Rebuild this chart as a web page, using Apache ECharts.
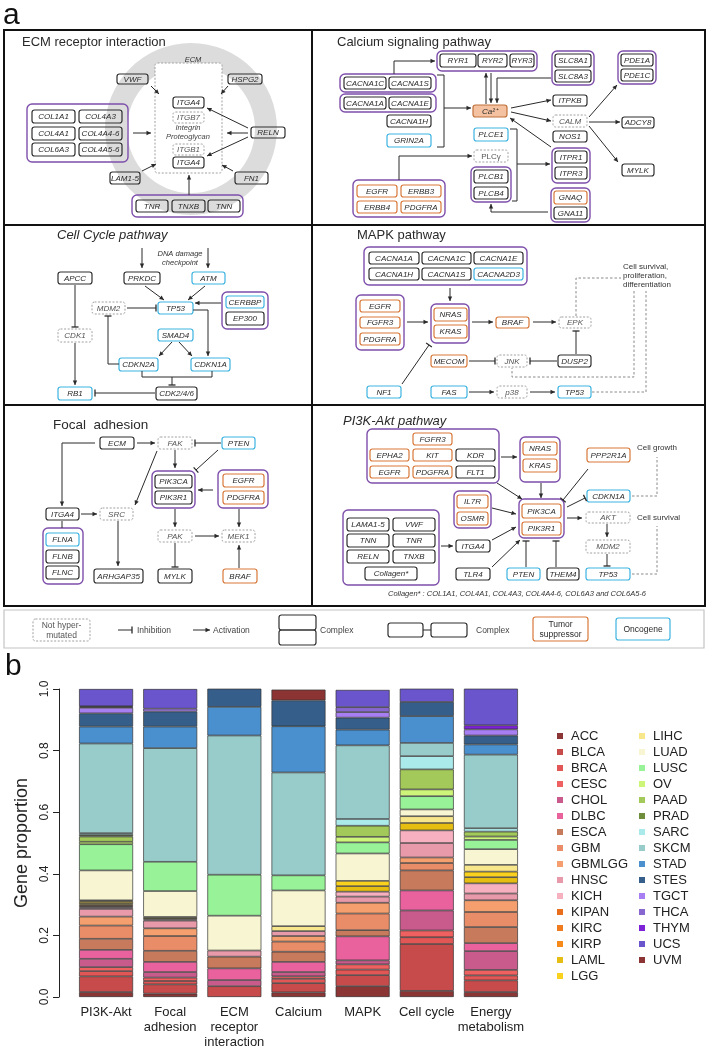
<!DOCTYPE html>
<html>
<head>
<meta charset="utf-8">
<script src="https://cdn.jsdelivr.net/npm/echarts@6/dist/echarts.min.js"></script>
<style>
html,body{margin:0;padding:0;background:#fff;}
#chart{width:709px;height:1050px;}
</style>
</head>
<body>
<div id="chart"></div>
<script>
// ---------------- DATA (panel b) ----------------
const categories = ['PI3K-Akt','Focal\nadhesion','ECM\nreceptor\ninteraction','Calcium','MAPK','Cell cycle','Energy\nmetabolism'];
const cancerTypes = ['ACC','BLCA','BRCA','CESC','CHOL','DLBC','ESCA','GBM','GBMLGG','HNSC','KICH','KIPAN','KIRC','KIRP','LAML','LGG',
  'LIHC','LUAD','LUSC','OV','PAAD','PRAD','SARC','SKCM','STAD','STES','TGCT','THCA','THYM','UCS','UVM'];
const yTicks = [0, 0.2, 0.4, 0.6, 0.8, 1.0];

// proportions per pathway: [PI3K-Akt, Focal adhesion, ECM, Calcium, MAPK, Cell cycle, Energy metabolism]
const ACC    = [0.016, 0.011, 0,     0.015, 0.035, 0.020, 0.016];
const BLCA   = [0.051, 0.030, 0.035, 0.030, 0.036, 0.152, 0.038];
const BRCA   = [0.017, 0.011, 0,     0.014, 0.018, 0.022, 0.016];
const CESC   = [0.013, 0.011, 0,     0.008, 0.017, 0.022, 0.018];
const CHOL   = [0.027, 0.018, 0.020, 0.014, 0.013, 0.065, 0.061];
const DLBC   = [0.029, 0.033, 0.038, 0.033, 0.078, 0.065, 0.026];
const ESCA   = [0.036, 0.036, 0.038, 0.033, 0.020, 0.065, 0.052];
const GBM    = [0.043, 0.048, 0,     0.033, 0.054, 0.024, 0.049];
const GBMLGG = [0.029, 0.025, 0,     0.018, 0.035, 0.018, 0.038];
const HNSC   = [0.025, 0.025, 0.020, 0.016, 0.020, 0.047, 0.022];
const KICH   = [0.005, 0.004, 0,     0,     0.016, 0.041, 0.033];
const KIPAN  = [0.003, 0,     0,     0,     0,     0,     0];
const KIRC   = [0.003, 0,     0,     0,     0,     0,     0];
const KIRP   = [0.003, 0,     0,     0,     0,     0,     0];
const LAML   = [0.005, 0,     0,     0,     0.018, 0.024, 0.020];
const LGG    = [0.006, 0.004, 0,     0,     0.017, 0,     0.018];
const LIHC   = [0.003, 0.004, 0,     0.016, 0,     0.022, 0.022];
const LUAD   = [0.097, 0.084, 0.113, 0.116, 0.089, 0.022, 0.051];
const LUSC   = [0.085, 0.095, 0.133, 0.049, 0.036, 0.043, 0.030];
const OV     = [0.008, 0,     0,     0,     0.018, 0.022, 0.011];
const PAAD   = [0.017, 0,     0,     0,     0.036, 0.065, 0.016];
const PRAD   = [0.005, 0,     0,     0,     0,     0,     0];
const SARC   = [0.006, 0,     0,     0,     0.022, 0.043, 0.011];
const SKCM   = [0.291, 0.369, 0.452, 0.334, 0.239, 0.043, 0.239];
const STAD   = [0.055, 0.070, 0.093, 0.150, 0.051, 0.087, 0.033];
const STES   = [0.043, 0.049, 0.059, 0.084, 0.039, 0.046, 0.029];
const TGCT   = [0.018, 0.009, 0,     0,     0.018, 0,     0.020];
const THCA   = [0.003, 0,     0,     0,     0.016, 0,     0];
const THYM   = [0.002, 0,     0,     0,     0,     0,     0.013];
const UCS    = [0.056, 0.064, 0,     0,     0.056, 0.043, 0.119];
const UVM    = [0,     0,     0,     0.035, 0,     0,     0];
const seriesValues = [ACC,BLCA,BRCA,CESC,CHOL,DLBC,ESCA,GBM,GBMLGG,HNSC,KICH,KIPAN,KIRC,KIRP,LAML,LGG,
  LIHC,LUAD,LUSC,OV,PAAD,PRAD,SARC,SKCM,STAD,STES,TGCT,THCA,THYM,UCS,UVM];

// ---------------- STYLE ----------------
const palette = ['#8b3535','#c84b4b','#e35656','#ef6060','#c85a8c','#e9629e','#c87a5c','#e98c68','#f59e6e','#e89aaa','#f7b0c0',
  '#e86e1c','#f07a1e','#f88a1a','#e6be12','#fad21e','#f7e68a','#f8f6d2','#98f298','#cdf57a','#a2c95a','#6e8e3c',
  '#abeaea','#98ccca','#4a90ce','#355f8a','#a87ff2','#8766d0','#7e22d8','#6a55cc','#8c3434'];
const FF = '"Liberation Sans", Arial, Helvetica, sans-serif';
const COL = {k:'#2e2e2e', o:'#d8783a', c:'#3db3e0', d:'#a0a0a0', p:'#7e4fab', f:'#c0703a'};

// ---------------- PANEL a (diagram drawn with graphic elements) ----------------
const G = [];
function T(x, y, t, fs, o) {
  o = o || {};
  G.push({type:'text', silent:true, z:10, style:{x:x, y:y, text:t, fill:o.color || '#2a2a2a',
    font:(o.italic ? 'italic ' : '') + fs + 'px ' + FF,
    textAlign:o.align || 'center', align:o.align || 'center',
    textVerticalAlign:'middle', verticalAlign:'middle', lineHeight:o.lh || fs + 2}});
}
function R(x1, y1, x2, y2, k, t, o) {
  o = o || {};
  const st = {fill:o.fill || 'none', stroke:COL[k], lineWidth:k === 'p' ? 1.4 : 1.2};
  if (k === 'd') { st.lineDash = [2, 1.6]; st.lineWidth = 1; }
  if (k === 'f') { st.fill = '#f4c2a0'; }
  G.push({type:'rect', silent:true, z:5, shape:{x:x1, y:y1, width:x2 - x1, height:y2 - y1, r:k === 'p' ? 5 : 2.5}, style:st});
  if (t) T((x1 + x2) / 2, (y1 + y2) / 2 + 0.5, t, o.fs || 8,
    {italic:o.italic !== false, color:k === 'd' ? '#555' : '#2a2a2a', lh:o.lh});
}
function L(pts, end, dash) {
  const col = dash ? '#8a8a8a' : '#2a2a2a';
  G.push({type:'polyline', silent:true, z:6, shape:{points:pts},
    style:{stroke:col, lineWidth:1, fill:null, lineDash:dash ? [2.5, 2] : null}});
  if (!end) return;
  const p = pts[pts.length - 1], q = pts[pts.length - 2];
  let dx = p[0] - q[0], dy = p[1] - q[1];
  const l = Math.hypot(dx, dy); dx /= l; dy /= l;
  if (end === 'a') {
    const a = 4.5, w = 2.2;
    G.push({type:'polygon', silent:true, z:6, shape:{points:[[p[0], p[1]],
      [p[0] - dx * a - dy * w, p[1] - dy * a + dx * w], [p[0] - dx * a + dy * w, p[1] - dy * a - dx * w]]},
      style:{fill:col}});
  } else {
    const w = 3.5;
    G.push({type:'line', silent:true, z:6, shape:{x1:p[0] - dy * w, y1:p[1] + dx * w, x2:p[0] + dy * w, y2:p[1] - dx * w},
      style:{stroke:col, lineWidth:1.3}});
  }
}

// labels a / b
T(3, 16, 'a', 30, {align:'left', color:'#111'});
T(5, 667, 'b', 30, {align:'left', color:'#111'});

// frame
G.push({type:'rect', silent:true, z:4, shape:{x:4, y:30, width:701, height:576}, style:{fill:'none', stroke:'#111', lineWidth:2}});
G.push({type:'line', silent:true, z:4, shape:{x1:312, y1:30, x2:312, y2:606}, style:{stroke:'#111', lineWidth:2}});
G.push({type:'line', silent:true, z:4, shape:{x1:4, y1:225, x2:705, y2:225}, style:{stroke:'#111', lineWidth:2}});
G.push({type:'line', silent:true, z:4, shape:{x1:4, y1:405, x2:705, y2:405}, style:{stroke:'#111', lineWidth:2}});

// ECM receptor interaction
T(22, 42, 'ECM receptor interaction', 13, {align:'left'});
G.push({type:'ring', silent:true, z:1, shape:{cx:191, cy:129, r:86, r0:64}, style:{fill:'#dcdcdc'}});
T(193, 60, 'ECM', 7.5, {italic:true, color:'#333'});
R(117, 74, 148, 84, 'k', 'VWF');
R(228, 74, 262, 84, 'k', 'HSPG2');
R(27, 104, 128, 162, 'p');
R(32, 110, 75, 123, 'k', 'COL1A1'); R(79, 110, 122, 123, 'k', 'COL4A3');
R(32, 127, 75, 140, 'k', 'COL4A1'); R(79, 127, 122, 140, 'k', 'COL4A4-6');
R(32, 143, 75, 156, 'k', 'COL6A3'); R(79, 143, 122, 156, 'k', 'COL4A5-6');
L([[133, 133], [151, 133]], 'a');
R(155, 63, 222, 173, 'd', null, {fill:'#fff'});
R(173, 97, 204, 108, 'k', 'ITGA4');
R(173, 112, 204, 123, 'd', 'ITGB7');
T(188, 128, 'Integrin', 7.5, {italic:true, color:'#444'});
T(188, 137, 'Proteoglycan', 7.5, {italic:true, color:'#444'});
R(173, 144, 204, 155, 'd', 'ITGB1');
R(173, 157, 204, 168, 'k', 'ITGA4');
R(251, 127, 285, 138, 'k', 'RELN');
L([[248, 128], [207, 108]], 'a');
L([[248, 133], [227, 133]], 'a');
L([[248, 137], [207, 156]], 'a');
L([[151, 86], [159, 94]], 'a');
L([[228, 86], [221, 94]], 'a');
R(110, 172, 140, 184, 'k', 'LAM1-5');
R(235, 172, 268, 184, 'k', 'FN1');
L([[142, 171], [156, 164]], 'a');
L([[233, 171], [222, 165]], 'a');
R(132, 195, 243, 217, 'p');
R(136, 200, 168, 212, 'k', 'TNR'); R(172, 200, 205, 212, 'k', 'TNXB'); R(208, 200, 240, 212, 'k', 'TNN');
L([[189, 195], [189, 175]], 'a');

// Calcium signaling pathway
T(337, 42, 'Calcium signaling pathway', 13, {align:'left'});
R(437, 51, 537, 71, 'p');
R(440, 54, 476, 67, 'k', 'RYR1'); R(478, 54, 507, 67, 'k', 'RYR2'); R(510, 54, 534, 67, 'k', 'RYR3');
R(552, 51, 594, 85, 'p');
R(555, 54, 591, 67, 'k', 'SLC8A1'); R(555, 70, 591, 82, 'k', 'SLC8A3');
R(618, 51, 656, 84, 'p');
R(621, 54, 653, 66, 'k', 'PDE1A'); R(621, 69, 653, 81, 'k', 'PDE1C');
R(340, 74, 436, 92, 'p');
R(344, 77, 386, 89, 'k', 'CACNA1C'); R(389, 77, 431, 89, 'k', 'CACNA1S');
R(340, 94, 436, 112, 'p');
R(344, 97, 386, 109, 'k', 'CACNA1A'); R(389, 97, 431, 109, 'k', 'CACNA1E');
R(387, 115, 431, 127, 'k', 'CACNA1H');
R(387, 134, 431, 147, 'c', 'GRIN2A');
L([[437, 75], [444, 75], [444, 147], [437, 147]]);
L([[444, 108], [471, 108]], 'a');
L([[394, 74], [394, 61], [435, 61]], 'a');
R(473, 105, 507, 117, 'f', 'Ca²⁺');
L([[486, 104], [486, 73]], 'a');
L([[491, 73], [491, 103]], 'a');
L([[551, 78], [497, 78], [497, 103]], 'a');
R(553, 95, 587, 106, 'k', 'ITPKB');
R(553, 115, 587, 127, 'd', 'CALM');
R(553, 131, 587, 142, 'k', 'NOS1');
L([[511, 108], [551, 100]], 'a');
L([[511, 112], [551, 121]], 'a');
L([[551, 147], [510, 118]], 'a');
R(552, 148, 590, 183, 'p');
R(555, 151, 587, 163, 'k', 'ITPR1'); R(555, 167, 587, 179, 'k', 'ITPR3');
R(622, 117, 654, 128, 'k', 'ADCY8');
R(622, 164, 654, 176, 'k', 'MYLK');
L([[589, 117], [617, 85]], 'a');
L([[589, 122], [620, 122]], 'a');
L([[589, 126], [618, 162]], 'a');
R(474, 128, 508, 141, 'c', 'PLCE1');
R(474, 150, 508, 162, 'd', 'PLCγ', {italic:false});
R(471, 167, 511, 202, 'p');
R(474, 170, 508, 183, 'k', 'PLCB1'); R(474, 187, 508, 199, 'k', 'PLCB4');
L([[510, 129], [517, 129], [517, 201], [512, 201]]);
L([[517, 164], [550, 164]], 'a');
L([[399, 180], [399, 156], [472, 156]], 'a');
R(353, 180, 445, 217, 'p');
R(357, 185, 397, 197, 'o', 'EGFR'); R(401, 185, 441, 197, 'o', 'ERBB3');
R(357, 201, 397, 213, 'o', 'ERBB4'); R(401, 201, 441, 213, 'o', 'PDGFRA');
R(551, 188, 590, 222, 'p');
R(554, 191, 587, 204, 'o', 'GNAQ'); R(554, 207, 587, 219, 'k', 'GNA11');
L([[548, 212], [491, 212], [491, 204]], 'a');

// Cell Cycle pathway
T(57, 235, 'Cell Cycle pathway', 13, {align:'left', italic:true});
T(180, 254, 'DNA damage', 7.5, {italic:true, color:'#333'});
T(180, 263, 'checkpoint', 7.5, {italic:true, color:'#333'});
L([[142, 248], [142, 268]], 'a');
L([[208, 248], [208, 268]], 'a');
R(58, 272, 92, 284, 'k', 'APCC');
R(124, 272, 160, 284, 'k', 'PRKDC');
R(192, 272, 225, 284, 'c', 'ATM');
R(92, 302, 125, 314, 'd', 'MDM2');
R(158, 302, 193, 314, 'c', 'TP53');
R(222, 292, 268, 329, 'p');
R(226, 296, 264, 308, 'c', 'CERBBP'); R(226, 312, 264, 325, 'k', 'EP300');
L([[221, 303], [195, 303]], 'a');
L([[127, 308], [156, 308]], 'i');
L([[145, 286], [164, 300]], 'a');
L([[205, 286], [188, 300]], 'a');
R(58, 329, 92, 342, 'd', 'CDK1');
L([[75, 285], [75, 327]], 'i');
R(158, 329, 193, 341, 'c', 'SMAD4');
L([[193, 310], [208, 310], [208, 356]], 'a');
R(119, 358, 158, 371, 'c', 'CDKN2A');
R(191, 358, 230, 371, 'c', 'CDKN1A');
L([[119, 364], [108, 364], [108, 316]], 'i');
L([[172, 342], [159, 356]], 'a');
L([[179, 342], [192, 356]], 'a');
L([[142, 371], [142, 377], [212, 377], [212, 371]]);
L([[172, 377], [172, 385]], 'i');
R(156, 387, 197, 400, 'k', 'CDK2/4/6');
R(58, 387, 92, 400, 'c', 'RB1');
L([[155, 393], [95, 393]], 'i');
L([[75, 343], [75, 385]], 'a');

// MAPK pathway
T(357, 235, 'MAPK pathway', 13, {align:'left'});
R(364, 247, 527, 285, 'p');
R(369, 252, 419, 264, 'k', 'CACNA1A'); R(422, 252, 471, 264, 'k', 'CACNA1C'); R(474, 252, 523, 264, 'k', 'CACNA1E');
R(369, 268, 419, 280, 'k', 'CACNA1H'); R(422, 268, 471, 280, 'k', 'CACNA1S'); R(474, 268, 523, 280, 'c', 'CACNA2D3');
L([[450, 288], [450, 301]], 'a');
R(356, 295, 404, 350, 'p');
R(360, 300, 400, 312, 'o', 'EGFR'); R(360, 317, 400, 328, 'o', 'FGFR3'); R(360, 333, 400, 345, 'o', 'PDGFRA');
R(431, 304, 469, 343, 'p');
R(434, 308, 467, 321, 'o', 'NRAS'); R(434, 325, 467, 338, 'o', 'KRAS');
L([[407, 322], [428, 322]], 'a');
L([[472, 322], [493, 322]], 'a');
R(496, 317, 529, 328, 'o', 'BRAF');
L([[533, 322], [556, 322]], 'a');
R(559, 317, 591, 328, 'd', 'EPK');
L([[576, 316], [576, 278], [621, 278]], null, true);
T(623, 267, 'Cell survival,', 8, {align:'left', color:'#333'});
T(623, 276, 'proliferation,', 8, {align:'left', color:'#333'});
T(623, 285, 'differentiation', 8, {align:'left', color:'#333'});
L([[634, 291], [634, 377], [512, 377], [512, 368]], null, true);
L([[592, 392], [646, 392], [646, 291]], null, true);
R(558, 355, 591, 367, 'k', 'DUSP2');
L([[576, 354], [576, 331]], 'i');
R(431, 355, 467, 367, 'o', 'MECOM');
R(497, 355, 527, 367, 'd', 'JNK');
L([[469, 361], [495, 361]], 'i');
L([[557, 361], [530, 361]], 'i');
R(367, 386, 401, 398, 'c', 'NF1');
L([[402, 384], [429, 345]], 'i');
R(431, 386, 467, 398, 'c', 'FAS');
L([[469, 392], [494, 392]], 'a');
R(497, 386, 527, 398, 'd', 'p38');
L([[530, 392], [555, 392]], 'a');
R(558, 386, 591, 398, 'c', 'TP53');

// Focal adhesion
T(53, 425, 'Focal  adhesion', 13.5, {align:'left'});
R(100, 437, 134, 449, 'k', 'ECM');
R(158, 437, 192, 449, 'd', 'FAK');
R(222, 437, 255, 449, 'c', 'PTEN');
L([[137, 443], [155, 443]], 'a');
L([[221, 443], [195, 443]], 'i');
L([[95, 443], [62, 443], [62, 506]], 'a');
R(46, 508, 79, 520, 'k', 'ITGA4');
L([[81, 514], [97, 514]], 'a');
R(100, 508, 133, 520, 'd', 'SRC');
L([[157, 451], [135, 505]], 'a');
L([[118, 521], [118, 566]], 'a');
R(94, 569, 143, 583, 'k', 'ARHGAP35');
L([[175, 450], [175, 468]], 'a');
L([[218, 450], [196, 470]], 'i');
R(152, 471, 195, 508, 'p');
R(155, 475, 192, 488, 'k', 'PIK3CA'); R(155, 491, 192, 504, 'k', 'PIK3R1');
R(218, 470, 268, 508, 'p');
R(223, 474, 264, 487, 'o', 'EGFR'); R(223, 491, 264, 504, 'o', 'PDGFRA');
L([[213, 490], [198, 490]], 'a');
L([[175, 509], [175, 527]], 'a');
R(158, 530, 192, 542, 'd', 'PAK');
L([[195, 536], [219, 536]], 'a');
R(222, 530, 255, 542, 'd', 'MEK1');
L([[239, 509], [239, 527]], 'a');
L([[175, 543], [175, 567]], 'i');
R(158, 569, 192, 583, 'k', 'MYLK');
R(223, 569, 257, 583, 'o', 'BRAF');
L([[239, 568], [239, 545]], 'a');
L([[62, 521], [62, 528]]);
R(43, 528, 83, 584, 'p');
R(46, 533, 79, 546, 'c', 'FLNA'); R(46, 550, 79, 563, 'k', 'FLNB'); R(46, 566, 79, 579, 'k', 'FLNC');

// PI3K-Akt pathway
T(343, 421, 'PI3K-Akt pathway', 13, {align:'left', italic:true});
R(367, 429, 499, 483, 'p');
R(413, 433, 452, 445, 'o', 'FGFR3');
R(370, 449, 409, 461, 'o', 'EPHA2'); R(413, 449, 452, 461, 'o', 'KIT'); R(456, 449, 495, 461, 'k', 'KDR');
R(370, 466, 409, 478, 'o', 'EGFR'); R(413, 466, 452, 478, 'o', 'PDGFRA'); R(456, 466, 495, 478, 'k', 'FLT1');
L([[501, 457], [517, 457]], 'a');
R(520, 437, 560, 482, 'p');
R(523, 442, 557, 455, 'o', 'NRAS'); R(523, 459, 557, 472, 'o', 'KRAS');
L([[497, 483], [522, 499]], 'a');
L([[541, 483], [541, 498]], 'a');
R(587, 448, 630, 462, 'o', 'PPP2R1A');
L([[588, 469], [563, 500]], 'i');
T(637, 448, 'Cell growth', 8, {align:'left', color:'#333'});
R(587, 490, 630, 502, 'c', 'CDKN1A');
L([[567, 507], [585, 498]], 'i');
L([[632, 496], [657, 496], [657, 457]], null, true);
R(454, 491, 491, 528, 'p');
R(457, 495, 488, 508, 'o', 'IL7R'); R(457, 512, 488, 525, 'o', 'OSMR');
L([[492, 508], [516, 514]], 'a');
R(519, 499, 564, 538, 'p');
R(522, 504, 561, 518, 'o', 'PIK3CA'); R(522, 522, 561, 535, 'o', 'PIK3R1');
L([[567, 518], [582, 518]], 'a');
R(586, 512, 630, 523, 'd', 'AKT');
L([[607, 524], [607, 537]], 'a');
R(586, 540, 630, 553, 'd', 'MDM2');
L([[607, 554], [607, 566]], 'i');
R(586, 568, 630, 580, 'c', 'TP53');
T(637, 518, 'Cell survival', 8, {align:'left', color:'#333'});
L([[632, 574], [657, 574], [657, 526]], null, true);
R(343, 510, 439, 585, 'p');
R(347, 518, 389, 531, 'k', 'LAMA1-5'); R(393, 518, 435, 531, 'k', 'VWF');
R(347, 534, 389, 547, 'k', 'TNN'); R(393, 534, 435, 547, 'k', 'TNR');
R(347, 550, 389, 563, 'k', 'RELN'); R(393, 550, 435, 563, 'k', 'TNXB');
R(365, 567, 417, 580, 'k', 'Collagen*');
L([[441, 546], [453, 546]], 'a');
R(456, 540, 490, 552, 'k', 'ITGA4');
L([[492, 540], [516, 527]], 'a');
R(456, 568, 490, 580, 'k', 'TLR4');
L([[492, 567], [520, 540]], 'a');
R(507, 568, 540, 580, 'c', 'PTEN');
L([[526, 567], [526, 541]], 'i');
R(547, 568, 579, 580, 'k', 'THEM4');
L([[556, 567], [556, 541]], 'i');
T(517, 594, 'Collagen* : COL1A1, COL4A1, COL4A3, COL4A4-6, COL6A3 and COL6A5-6', 7.5, {italic:true, color:'#333'});

// key (legend of panel a)
G.push({type:'rect', silent:true, z:4, shape:{x:4, y:610, width:700, height:38}, style:{fill:'none', stroke:'#c4c4c4', lineWidth:1.2}});
R(33, 619, 90, 641, 'd', 'Not hyper-\nmutated', {italic:false, fs:8.5, lh:10});
L([[118, 630], [132, 630]], 'i');
T(137, 630.5, 'Inhibition', 8.5, {align:'left', color:'#444'});
L([[193, 630], [210, 630]], 'a');
T(213, 630.5, 'Activation', 8.5, {align:'left', color:'#444'});
R(279, 615, 316, 630, 'k'); R(279, 630, 316, 645, 'k');
T(320, 630.5, 'Complex', 8.5, {align:'left', color:'#444'});
R(388, 623, 423, 637, 'k'); R(431, 623, 467, 637, 'k');
L([[423, 630], [431, 630]]);
T(476, 630.5, 'Complex', 8.5, {align:'left', color:'#444'});
R(533, 617, 588, 641, 'o', 'Tumor\nsuppressor', {italic:false, fs:8.5, lh:10});
R(616, 618, 670, 640, 'c', 'Oncogene', {italic:false, fs:8.5});

// ---------------- CHART (panel b) ----------------
const series = cancerTypes.map((name, i) => ({
  name: name,
  type: 'bar',
  stack: 'total',
  barWidth: 54,
  data: seriesValues[i].map(v => (v === 0 ? '-' : v)),
  itemStyle: {color: palette[i], borderColor: '#333', borderWidth: 0.7},
  emphasis: {disabled: true}
}));

const legendBase = {
  orient: 'vertical', icon: 'rect', itemWidth: 6, itemHeight: 6, itemGap: 0,
  selectedMode: false,
  itemStyle: {borderWidth: 0},
  textStyle: {fontSize: 13, color: '#222', fontFamily: FF, lineHeight: 16, padding: [0, 0, 0, 3]}
};

const chart = echarts.init(document.getElementById('chart'), null, {renderer: 'canvas'});
chart.setOption({
  animation: false,
  backgroundColor: '#fff',
  textStyle: {fontFamily: FF},
  grid: {left: 74, right: 186, top: 689, bottom: 53, containLabel: false},
  legend: [
    Object.assign({}, legendBase, {left: 552, top: 723, data: cancerTypes.slice(0, 16)}),
    Object.assign({}, legendBase, {left: 634, top: 723, data: cancerTypes.slice(16)})
  ],
  xAxis: {
    type: 'category', data: categories,
    axisLine: {show: false}, axisTick: {show: false},
    axisLabel: {interval: 0, fontSize: 13, color: '#222', lineHeight: 15, margin: 8}
  },
  yAxis: {
    type: 'value', min: yTicks[0], max: yTicks[yTicks.length - 1], interval: 0.2, offset: 15,
    splitLine: {show: false},
    axisLine: {show: true, lineStyle: {color: '#222', width: 1}},
    axisTick: {show: true, length: 6, lineStyle: {color: '#222'}},
    axisLabel: {rotate: 90, fontSize: 12, color: '#222', margin: 8, formatter: v => v.toFixed(1)},
    name: 'Gene proportion', nameLocation: 'middle', nameGap: 18, nameRotate: 90,
    nameTextStyle: {fontSize: 18, color: '#222'}
  },
  series: series,
  graphic: {elements: G}
});
</script>
</body>
</html>
